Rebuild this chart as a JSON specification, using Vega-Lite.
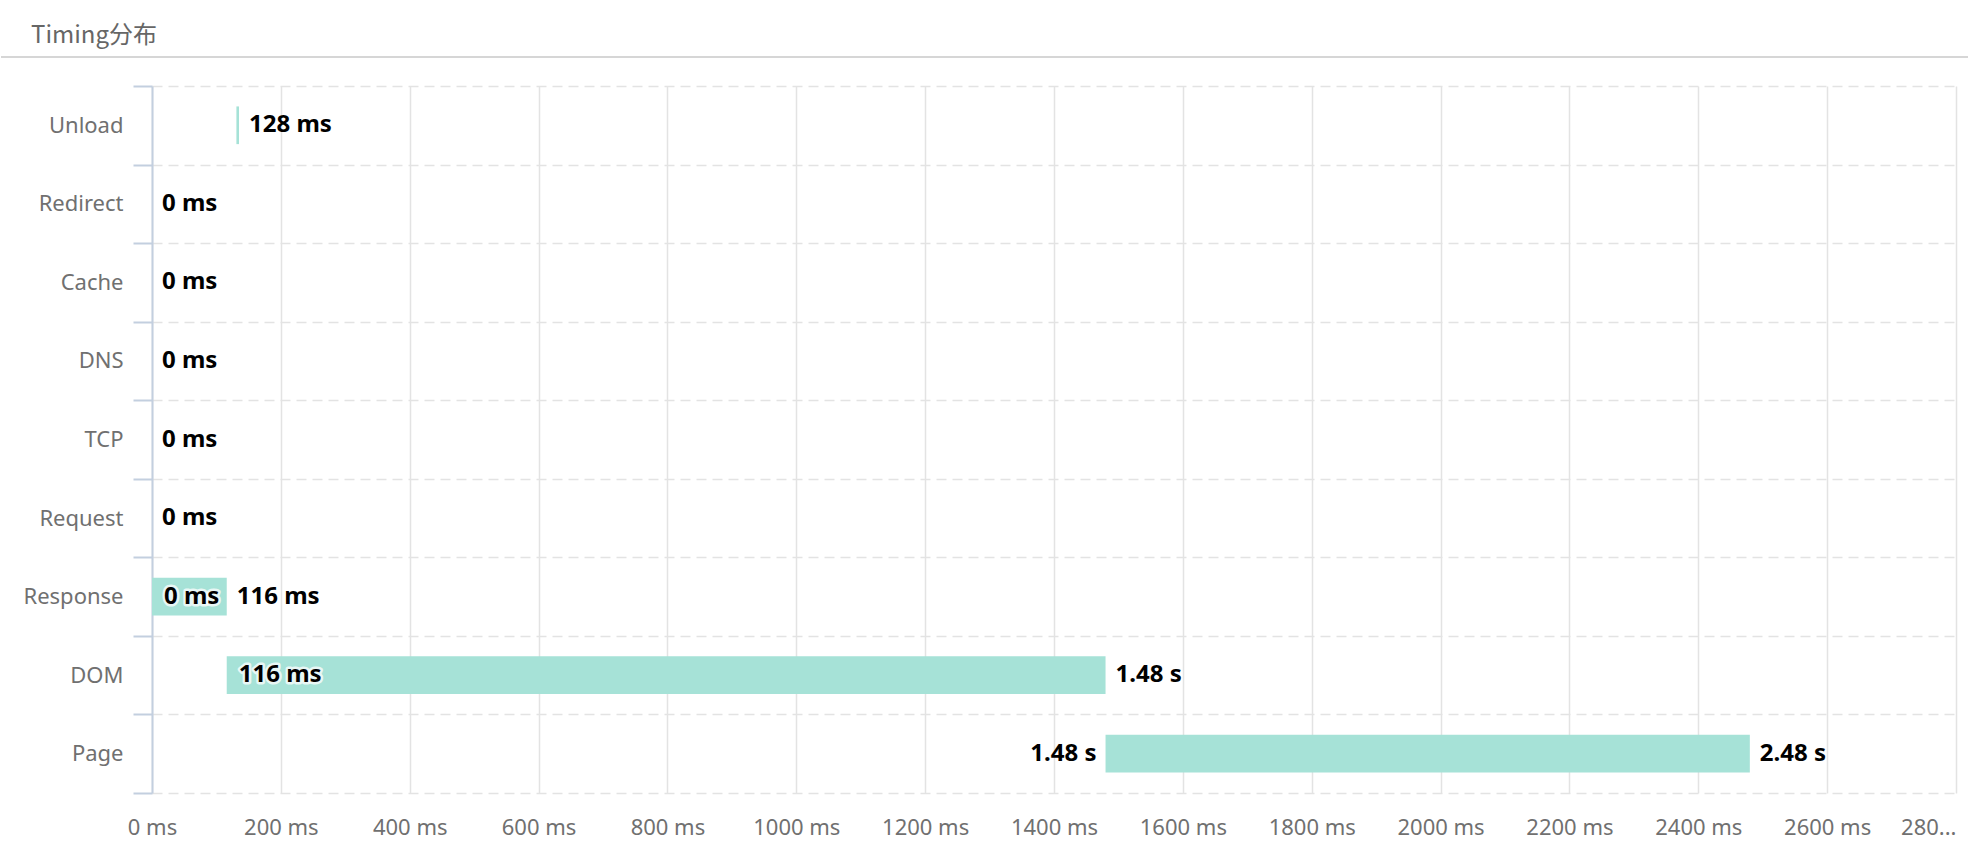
{
  "$schema": "https://vega.github.io/schema/vega-lite/v6.json",
  "background": "white",
  "padding": {"top": 24, "left": 0, "right": 0, "bottom": 20},
  "title": {"text": "Timing分布", "anchor": "start", "dx": 31, "fontSize": 24, "fontWeight": "normal", "color": "#666666", "font": "Noto Sans CJK SC", "offset": 0, "frame": "bounds"},
  "spacing": 17,
  "datasets": {
    "timing": [
      {"stage": "Unload", "start": 131, "end": 135, "endLabel": "128 ms", "startLabel": null},
      {"stage": "Redirect", "start": 0, "end": 0, "endLabel": "0 ms", "startLabel": null},
      {"stage": "Cache", "start": 0, "end": 0, "endLabel": "0 ms", "startLabel": null},
      {"stage": "DNS", "start": 0, "end": 0, "endLabel": "0 ms", "startLabel": null},
      {"stage": "TCP", "start": 0, "end": 0, "endLabel": "0 ms", "startLabel": null},
      {"stage": "Request", "start": 0, "end": 0, "endLabel": "0 ms", "startLabel": null},
      {"stage": "Response", "start": 0, "end": 116, "endLabel": "116 ms", "startLabel": "0 ms"},
      {"stage": "DOM", "start": 116, "end": 1480, "endLabel": "1.48 s", "startLabel": "116 ms"},
      {"stage": "Page", "start": 1480, "end": 2480, "endLabel": "2.48 s", "startLabel": "1.48 s"}
    ]
  },
  "vconcat": [
    {
      "width": 1817,
      "height": 9,
      "data": {"values": [{}]},
      "mark": {"type": "rule", "color": "#d6d6d6", "strokeWidth": 2, "clip": false},
      "encoding": {
        "x": {"datum": 0, "type": "quantitative", "scale": {"domain": [0, 1], "range": [-151, 1817]}, "axis": null},
        "x2": {"datum": 1},
        "y": {"datum": 0, "type": "quantitative", "scale": {"domain": [0, 1]}, "axis": null}
      }
    },
    {
      "width": 1804,
      "height": 707,
      "data": {"name": "timing"},
      "encoding": {
        "y": {
          "field": "stage",
          "type": "nominal",
          "sort": ["Unload", "Redirect", "Cache", "DNS", "TCP", "Request", "Response", "DOM", "Page"],
          "scale": {"paddingInner": 0, "paddingOuter": 0},
          "axis": {
            "title": null,
            "tickBand": "extent",
            "grid": true,
            "gridDash": [10, 6],
            "gridColor": "#e3e3e3",
            "gridWidth": 1.5,
            "domainColor": "#c3cfdf",
            "domainWidth": 2,
            "tickColor": "#c3cfdf",
            "tickWidth": 2,
            "tickSize": 19,
            "labelPadding": 10,
            "labelFontSize": 22,
            "labelColor": "#707070",
            "labelFont": "Noto Sans",
            "minExtent": 151,
            "maxExtent": 151
          }
        }
      },
      "layer": [
        {
          "mark": {"type": "bar", "color": "#a6e2d7", "height": {"band": 0.48}},
          "encoding": {
            "x": {
              "field": "start",
              "type": "quantitative",
              "scale": {"domain": [0, 2800], "nice": false},
              "axis": {
                "title": null,
                "values": [0, 200, 400, 600, 800, 1000, 1200, 1400, 1600, 1800, 2000, 2200, 2400, 2600, 2800],
                "domain": false,
                "ticks": false,
                "grid": true,
                "gridColor": "#e3e3e3",
                "gridWidth": 1.5,
                "labelExpr": "datum.value == 2800 ? '280...' : datum.value + ' ms'",
                "labelAlign": {"condition": {"test": "datum.value == 2800", "value": "right"}, "value": "center"},
                "labelPadding": 24,
                "labelFontSize": 22,
                "labelFont": "Noto Sans",
                "labelColor": "#707070",
                "labelOverlap": false,
                "labelBound": false,
                "labelFlush": false
              }
            },
            "x2": {"field": "end"}
          }
        },
        {
          "mark": {"type": "text", "align": "left", "baseline": "middle", "dx": 10, "font": "Noto Sans", "fontSize": 24, "fontWeight": "bold", "color": "#000000"},
          "encoding": {
            "x": {"field": "end", "type": "quantitative"},
            "text": {"field": "endLabel"}
          }
        },
        {
          "transform": [{"filter": "datum.startLabel != null && datum.stage != 'Page'"}],
          "mark": {"type": "text", "align": "left", "baseline": "middle", "dx": 12, "font": "Noto Sans", "fontSize": 24, "fontWeight": "bold", "fill": "#ffffff", "stroke": "#ffffff", "strokeWidth": 5, "strokeOpacity": 0.75, "strokeJoin": "round"},
          "encoding": {
            "x": {"field": "start", "type": "quantitative"},
            "text": {"field": "startLabel"}
          }
        },
        {
          "transform": [{"filter": "datum.startLabel != null && datum.stage != 'Page'"}],
          "mark": {"type": "text", "align": "left", "baseline": "middle", "dx": 12, "font": "Noto Sans", "fontSize": 24, "fontWeight": "bold", "color": "#000000"},
          "encoding": {
            "x": {"field": "start", "type": "quantitative"},
            "text": {"field": "startLabel"}
          }
        },
        {
          "transform": [{"filter": "datum.stage == 'Page'"}],
          "mark": {"type": "text", "align": "right", "baseline": "middle", "dx": -9, "font": "Noto Sans", "fontSize": 24, "fontWeight": "bold", "color": "#000000"},
          "encoding": {
            "x": {"field": "start", "type": "quantitative"},
            "text": {"field": "startLabel"}
          }
        }
      ]
    }
  ],
  "config": {"view": {"stroke": null}, "font": "Noto Sans"}
}
